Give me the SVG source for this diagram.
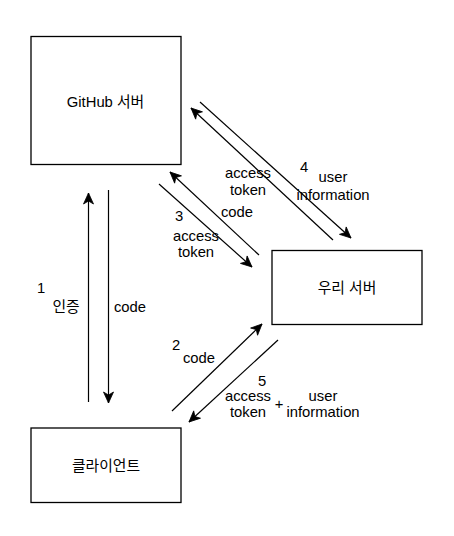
<svg xmlns="http://www.w3.org/2000/svg" width="454" height="536" viewBox="0 0 454 536">
<style>
.box{fill:#ffffff;stroke:#000000;stroke-width:1.3}
.t{font-family:"Liberation Sans","Noto Sans CJK KR",Arial,sans-serif;font-size:14.8px;fill:#000000;text-anchor:middle}
.c{stroke:#000000;stroke-width:1.2;fill:none;marker-end:url(#arr)}
</style>
<defs>
<marker id="arr" markerUnits="userSpaceOnUse" markerWidth="14" markerHeight="12" viewBox="-1 -6 13 12" refX="11" refY="0" orient="auto">
<path d="M0,-5 L11,0 L0,5 L3,0 Z" fill="#000000" stroke="#000000" stroke-width="0.8"/>
</marker>
</defs>
<rect width="454" height="536" fill="#ffffff"/>
<g id="github">
<rect class="box" x="31" y="36.5" width="150" height="128"/>
<text class="t" x="105.5" y="107">GitHub 서버</text>
</g>
<g id="ourserver">
<rect class="box" x="272" y="250.5" width="150" height="74"/>
<text class="t" x="347" y="293">우리 서버</text>
</g>
<g id="client">
<rect class="box" x="31" y="428" width="150" height="74.5"/>
<text class="t" x="106" y="471">클라이언트</text>
</g>
<g id="connectors">
<line class="c" x1="88.5" y1="402" x2="88.5" y2="193"/>
<line class="c" x1="108.5" y1="190" x2="108.5" y2="403"/>
<line class="c" x1="159" y1="184" x2="252" y2="267"/>
<line class="c" x1="259" y1="255" x2="170" y2="172"/>
<line class="c" x1="333" y1="240" x2="191" y2="108"/>
<line class="c" x1="200" y1="102" x2="351" y2="238"/>
<line class="c" x1="172" y1="411" x2="262" y2="324"/>
<line class="c" x1="278" y1="340" x2="189" y2="422"/>
</g>
<g id="labels">
<text class="t" x="41" y="293">1</text>
<text class="t" x="66" y="312">인증</text>
<text class="t" x="130" y="312">code</text>
<text class="t" x="179" y="221">3</text>
<text class="t" x="196" y="241">access</text>
<text class="t" x="196" y="257">token</text>
<text class="t" x="237" y="217">code</text>
<text class="t" x="248" y="178">access</text>
<text class="t" x="248" y="195">token</text>
<text class="t" x="304" y="172">4</text>
<text class="t" x="333" y="182">user</text>
<text class="t" x="333" y="200">information</text>
<text class="t" x="176" y="350">2</text>
<text class="t" x="199" y="363">code</text>
<text class="t" x="262" y="386">5</text>
<text class="t" x="248" y="401">access</text>
<text class="t" x="248" y="417">token</text>
<text class="t" x="279" y="409">+</text>
<text class="t" x="323" y="401">user</text>
<text class="t" x="323" y="417">information</text>
</g>
</svg>
